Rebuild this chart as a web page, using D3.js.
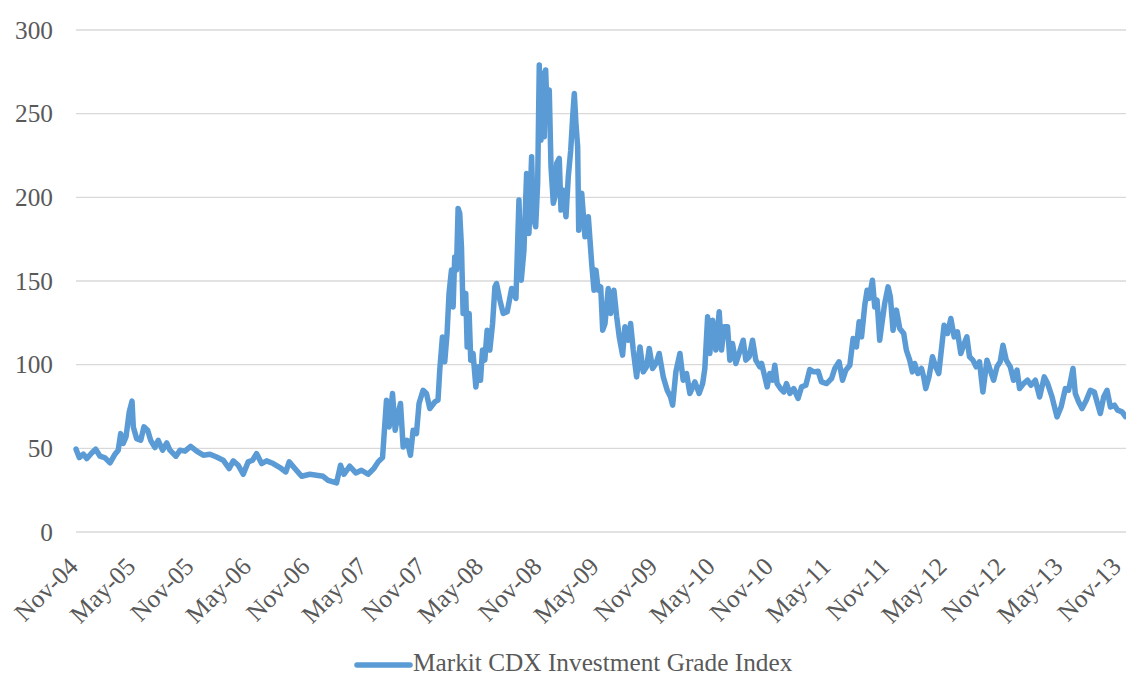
<!DOCTYPE html>
<html>
<head>
<meta charset="utf-8">
<script src="https://cdn.jsdelivr.net/npm/d3@7"></script>
<style>
  html, body { margin: 0; padding: 0; background: #ffffff; }
  svg { display: block; }
  text { font-family: "Liberation Serif", "Times New Roman", serif; fill: #595959; }
</style>
</head>
<body>
<svg id="chart" width="1126" height="677"></svg>
<script>
// Markit CDX North America Investment Grade index, spread in basis points.
// Observation times are given as decimal years.
const obsYears = [
  2004.825, 2004.853, 2004.888, 2004.917, 2004.960, 2004.994, 2005.032, 2005.075, 2005.118, 2005.161,
  2005.189, 2005.210, 2005.232, 2005.256, 2005.284, 2005.308, 2005.319, 2005.348, 2005.383, 2005.411,
  2005.443, 2005.469, 2005.506, 2005.534, 2005.572, 2005.607, 2005.635, 2005.687, 2005.722, 2005.765,
  2005.814, 2005.866, 2005.923, 2005.981, 2006.038, 2006.095, 2006.147, 2006.182, 2006.225, 2006.268,
  2006.311, 2006.349, 2006.383, 2006.427, 2006.470, 2006.527, 2006.585, 2006.636, 2006.665, 2006.714,
  2006.772, 2006.843, 2006.901, 2006.958, 2007.001, 2007.074, 2007.108, 2007.137, 2007.188, 2007.240,
  2007.289, 2007.346, 2007.396, 2007.433, 2007.471, 2007.505, 2007.528, 2007.557, 2007.580, 2007.605,
  2007.626, 2007.649, 2007.683, 2007.712, 2007.735, 2007.764, 2007.786, 2007.821, 2007.850, 2007.879,
  2007.922, 2007.950, 2007.965, 2007.988, 2008.008, 2008.028, 2008.045, 2008.066, 2008.080, 2008.094,
  2008.109, 2008.123, 2008.137, 2008.152, 2008.166, 2008.189, 2008.201, 2008.218, 2008.232, 2008.252,
  2008.276, 2008.295, 2008.316, 2008.333, 2008.353, 2008.373, 2008.396, 2008.420, 2008.440, 2008.454,
  2008.483, 2008.511, 2008.546, 2008.584, 2008.621, 2008.647, 2008.667, 2008.690, 2008.713, 2008.733,
  2008.756, 2008.770, 2008.791, 2008.808, 2008.822, 2008.836, 2008.851, 2008.865, 2008.877, 2008.891,
  2008.908, 2008.923, 2008.943, 2008.957, 2008.972, 2008.994, 2009.009, 2009.029, 2009.052, 2009.072,
  2009.093, 2009.110, 2009.124, 2009.138, 2009.153, 2009.162, 2009.173, 2009.188, 2009.216, 2009.245,
  2009.274, 2009.294, 2009.311, 2009.331, 2009.352, 2009.369, 2009.389, 2009.417, 2009.438, 2009.466,
  2009.490, 2009.512, 2009.541, 2009.561, 2009.590, 2009.610, 2009.633, 2009.662, 2009.691, 2009.719,
  2009.748, 2009.771, 2009.800, 2009.829, 2009.857, 2009.892, 2009.926, 2009.955, 2009.973, 2010.001,
  2010.036, 2010.064, 2010.093, 2010.122, 2010.165, 2010.202, 2010.232, 2010.251, 2010.275, 2010.294,
  2010.318, 2010.346, 2010.375, 2010.395, 2010.418, 2010.447, 2010.467, 2010.490, 2010.519, 2010.547,
  2010.582, 2010.605, 2010.634, 2010.663, 2010.691, 2010.726, 2010.741, 2010.769, 2010.789, 2010.812,
  2010.836, 2010.855, 2010.875, 2010.904, 2010.933, 2010.956, 2010.985, 2011.019, 2011.056, 2011.086,
  2011.123, 2011.157, 2011.192, 2011.229, 2011.258, 2011.302, 2011.345, 2011.373, 2011.410, 2011.440,
  2011.468, 2011.503, 2011.531, 2011.560, 2011.583, 2011.604, 2011.632, 2011.652, 2011.669, 2011.698,
  2011.718, 2011.738, 2011.761, 2011.784, 2011.804, 2011.833, 2011.853, 2011.876, 2011.905, 2011.934,
  2011.968, 2011.991, 2012.020, 2012.043, 2012.063, 2012.091, 2012.121, 2012.140, 2012.158, 2012.186,
  2012.216, 2012.244, 2012.270, 2012.316, 2012.345, 2012.374, 2012.403, 2012.431, 2012.460, 2012.489,
  2012.512, 2012.535, 2012.564, 2012.592, 2012.621, 2012.650, 2012.685, 2012.713, 2012.742, 2012.771,
  2012.799, 2012.823, 2012.851, 2012.886, 2012.914, 2012.944, 2012.966, 2013.000, 2013.035, 2013.064,
  2013.102, 2013.139, 2013.179, 2013.208, 2013.246, 2013.289, 2013.324, 2013.361, 2013.389, 2013.410,
  2013.427, 2013.447, 2013.476, 2013.505, 2013.542, 2013.577, 2013.611, 2013.635, 2013.663, 2013.692,
  2013.721, 2013.750, 2013.785, 2013.813, 2013.851, 2013.880
];

const spreads = [
  49.5, 44.5, 46.5, 43.9, 47.2, 49.5, 45.3, 44.3, 41.3, 46.5,
  48.9, 58.8, 52.9, 56.8, 71.8, 78.2, 62.8, 55.8, 54.8, 62.8,
  60.8, 54.8, 50.5, 54.8, 48.9, 53.2, 48.9, 45.3, 48.9, 48.3,
  51.2, 48.3, 45.9, 46.5, 44.8, 42.9, 37.9, 42.5, 39.9, 34.5,
  41.9, 42.9, 46.9, 40.9, 42.5, 40.9, 38.5, 35.9, 41.9, 37.9,
  33.3, 34.5, 33.9, 33.3, 30.9, 29.3, 39.9, 34.5, 39.3, 35.3,
  36.9, 34.5, 37.9, 41.9, 44.5, 78.8, 62.8, 82.8, 60.8, 70.8,
  76.8, 50.8, 54.8, 45.9, 60.8, 58.8, 76.8, 84.7, 82.8, 73.8,
  77.7, 78.8, 96.7, 116.6, 101.7, 118.6, 142.6, 156.5, 134.5, 164.4,
  156.5, 193.4, 190.4, 170.4, 130.6, 142.6, 110.6, 130.6, 102.7, 106.7,
  86.7, 98.7, 90.7, 108.7, 102.7, 120.6, 108.7, 124.6, 146.5, 148.5,
  138.6, 130.6, 131.6, 145.5, 139.6, 198.4, 150.5, 168.4, 214.3, 178.4,
  224.2, 188.4, 182.4, 208.3, 279.1, 234.2, 274.1, 236.2, 276.1, 248.2,
  264.1, 218.3, 196.4, 200.3, 220.3, 223.3, 192.4, 204.3, 188.4, 212.3,
  228.2, 248.2, 262.1, 244.2, 230.2, 180.4, 200.3, 202.4, 176.4, 188.4,
  160.5, 144.5, 156.5, 144.5, 146.5, 120.6, 124.6, 145.5, 130.6, 144.5,
  128.6, 116.6, 105.7, 122.6, 114.6, 124.6, 108.7, 92.7, 110.6, 95.7,
  98.7, 109.7, 97.7, 100.7, 106.7, 92.7, 84.7, 80.7, 75.8, 95.7,
  106.7, 90.7, 94.7, 82.8, 89.7, 82.8, 88.7, 97.7, 128.6, 106.7,
  126.6, 108.7, 131.6, 108.7, 122.6, 122.6, 102.7, 112.6, 100.7, 106.7,
  114.6, 102.7, 104.7, 114.6, 102.7, 98.7, 100.7, 92.7, 86.7, 94.7,
  90.7, 99.7, 88.7, 85.7, 83.7, 88.7, 82.8, 85.7, 79.8, 86.7,
  87.7, 97.1, 95.7, 96.1, 89.7, 88.7, 91.7, 97.7, 101.7, 90.7,
  96.7, 99.7, 115.6, 110.6, 125.6, 116.6, 135.6, 144.5, 139.6, 150.5,
  134.5, 138.6, 114.6, 126.6, 136.6, 146.5, 140.5, 120.6, 132.6, 121.6,
  118.6, 108.7, 102.7, 95.7, 100.7, 94.7, 97.7, 92.7, 85.7, 92.7,
  104.7, 98.7, 94.7, 123.6, 118.6, 127.6, 116.6, 119.6, 106.7, 112.6,
  116.6, 104.7, 102.7, 98.7, 101.7, 83.7, 102.7, 96.7, 90.7, 98.7,
  101.7, 111.6, 102.7, 98.7, 90.7, 96.7, 85.7, 88.7, 90.7, 87.7,
  90.7, 80.7, 92.7, 88.7, 80.7, 68.8, 74.7, 85.7, 84.7, 91.7,
  97.7, 82.8, 77.7, 73.8, 78.8, 84.7, 83.7, 77.7, 70.8, 80.7,
  84.7, 74.7, 75.8, 72.8, 71.8, 69.0
];

const tickLabels = [
  "Nov-04", "May-05", "Nov-05", "May-06", "Nov-06", "May-07", "Nov-07", "May-08", "Nov-08", "May-09",
  "Nov-09", "May-10", "Nov-10", "May-11", "Nov-11", "May-12", "Nov-12", "May-13", "Nov-13"
];
const yTicks = [0, 50, 100, 150, 200, 250, 300];
const seriesName = "Markit CDX Investment Grade Index";

// ---- helpers ----
const parseTick = d3.timeParse("%b-%y");
function yearToDate(t) {
  const y = Math.floor(t);
  const a = new Date(y, 0, 1), b = new Date(y + 1, 0, 1);
  return new Date(+a + (t - y) * (b - a));
}
const series = obsYears.map((t, i) => ({ date: yearToDate(t), value: spreads[i] }));
const tickDates = tickLabels.map(parseTick);

// ---- layout ----
const svg = d3.select("#chart");
const plot = { left: 77, right: 1120, top: 30, bottom: 532 };
const fontStack = "'Liberation Serif', 'Times New Roman', serif";

const x = d3.scaleTime()
  .domain([tickDates[0], tickDates[tickDates.length - 1]])
  .range([plot.left, plot.right]);
const y = d3.scaleLinear()
  .domain([0, 300])
  .range([plot.bottom, plot.top]);

// horizontal gridlines
svg.append("g")
  .selectAll("line")
  .data(yTicks)
  .join("line")
  .attr("x1", 76)
  .attr("x2", 1126)
  .attr("y1", d => y(d))
  .attr("y2", d => y(d))
  .attr("stroke", "#d9d9d9")
  .attr("stroke-width", 1.3);

// y axis labels
const yAxis = d3.axisLeft(y).tickValues(yTicks).tickSize(0).tickPadding(0);
const gy = svg.append("g").attr("transform", "translate(53,0)").call(yAxis);
gy.select(".domain").remove();
gy.selectAll("text")
  .attr("font-size", 25.3)
  .attr("fill", "#595959")
  .style("font-family", fontStack);

// x axis labels, rotated
const xAxis = d3.axisBottom(x)
  .tickValues(tickDates)
  .tickFormat((d, i) => tickLabels[i])
  .tickSize(0)
  .tickPadding(0);
const gx = svg.append("g").attr("transform", `translate(0,${plot.bottom})`).call(xAxis);
gx.select(".domain").remove();
gx.selectAll("text")
  .attr("font-size", 25.3)
  .attr("fill", "#595959")
  .style("font-family", fontStack)
  .attr("text-anchor", "end")
  .attr("dy", null)
  .attr("y", 0)
  .attr("transform", "translate(2,36) rotate(-45)");

// index line
const line = d3.line()
  .x(d => x(d.date))
  .y(d => y(d.value));
svg.append("path")
  .datum(series)
  .attr("d", line)
  .attr("fill", "none")
  .attr("stroke", "#5b9bd5")
  .attr("stroke-width", 5.5)
  .attr("stroke-linejoin", "round")
  .attr("stroke-linecap", "round");

// legend
const lg = svg.append("g").attr("transform", "translate(357,665)");
lg.append("line")
  .attr("x1", 0).attr("x2", 53)
  .attr("y1", 0).attr("y2", 0)
  .attr("stroke", "#5b9bd5")
  .attr("stroke-width", 5.5)
  .attr("stroke-linecap", "round");
lg.append("text")
  .attr("x", 56)
  .attr("y", 6)
  .attr("font-size", 25.3)
  .text(seriesName);
</script>
</body>
</html>
